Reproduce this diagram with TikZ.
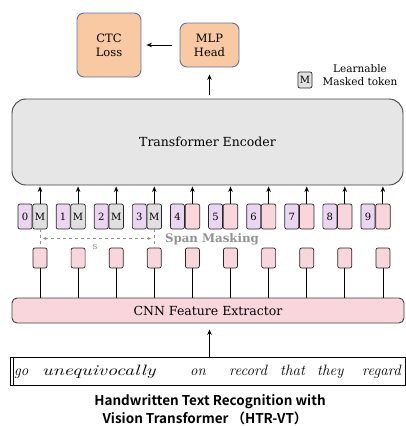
\documentclass[tikz,border=0pt]{standalone}
\usepackage{fontspec}
\newfontfamily\dser{DejaVu Serif}
\newfontfamily\capfont{Noto Sans CJK SC}[BoldFont={Noto Sans CJK SC Bold}]
\usetikzlibrary{arrows.meta,calc}
\definecolor{ofill}{RGB}{248,201,163}
\definecolor{oborder}{RGB}{95,115,165}
\definecolor{encfill}{RGB}{230,230,230}
\definecolor{lav}{RGB}{234,214,240}
\definecolor{pinkf}{RGB}{248,214,220}
\definecolor{mgray}{RGB}{224,224,224}
\definecolor{spang}{RGB}{145,145,145}
\tikzset{
  obox/.style={draw=oborder, line width=0.9pt, fill=ofill, rounded corners=7pt, align=center, inner sep=0pt,
    font=\dser\fontsize{11.5}{14}\selectfont},
  arr/.style={-{Stealth[length=5.5pt,width=4.5pt]}, line width=0.9pt},
  tok/.style={draw=black!85, line width=0.7pt, rounded corners=2pt, minimum width=14.5pt, minimum height=25pt, inner sep=0pt,
    font=\dser\fontsize{10}{12}\selectfont},
  ltok/.style={draw=black!85, line width=0.7pt, rounded corners=2pt, fill=pinkf, minimum width=14pt, minimum height=20pt, inner sep=0pt},
  bigbox/.style={draw=black!75, line width=0.9pt, inner sep=0pt, font=\dser\fontsize{12.5}{14}\selectfont},
  hand/.style={font=\itshape\fontsize{15}{16}\selectfont, inner sep=0pt, anchor=base west},
  captext/.style={inner sep=0pt, font=\capfont\bfseries\fontsize{13.5}{15}\selectfont},
}
\begin{document}
\begin{tikzpicture}[x=1pt,y=-1pt]
\useasboundingbox (0,0) rectangle (405,426);
% top boxes
\node[obox, minimum width=64pt, minimum height=64pt] (ctc) at (109,45) {CTC\\Loss};
\node[obox, minimum width=59pt, minimum height=44pt] (mlp) at (209.5,45) {MLP\\Head};
\draw[arr, shorten <=8pt, shorten >=5pt] (mlp.west) -- (ctc.east);
% legend
\node[draw=black!85, line width=0.7pt, fill=mgray, rounded corners=2pt, minimum width=14pt, minimum height=16pt, inner sep=0pt,
  font=\dser\fontsize{10}{12}\selectfont] (legm) at (305,80) {M};
\node[align=center, inner sep=0pt, font=\dser\fontsize{10.5}{13.5}\selectfont] (legt) at (360,75) {Learnable\\Masked token};
% encoder
\node[bigbox, fill=encfill, rounded corners=14pt, minimum width=391pt, minimum height=86pt] (enc) at (207.5,142) {Transformer Encoder};
\draw[arr, shorten <=4pt, shorten >=7pt] (enc.north -| mlp.south) -- (mlp.south);
% CNN
\node[bigbox, fill=pinkf, rounded corners=5pt, minimum width=392pt, minimum height=25pt] (cnn) at (208,310.5) {CNN Feature Extractor};
% tokens
\foreach \i in {0,...,9}{
  \pgfmathsetmacro{\cx}{40+38.1*\i}
  \ifnum\i<4
    \node[tok, fill=mgray] (t\i) at (\cx,216.5) {M};
  \else
    \node[tok, fill=pinkf] (t\i) at (\cx,216.5) {};
  \fi
  \node[tok, fill=lav, minimum width=14pt, anchor=east] (n\i) at (t\i.west) {\i};
  \draw[arr, shorten >=1pt] (t\i.north) -- (t\i.north |- enc.south);
  \node[ltok] (l\i) at (\cx,258) {};
  \draw[line width=0.8pt] (l\i.south) -- (l\i.south |- cnn.north);
}
% span masking
\draw[spang, dashed, line width=0.6pt] (t0.south) -- (l0.north);
\draw[spang, dashed, line width=0.6pt] (t3.south) -- (l3.north);
\coordinate (sa) at ($(t0.south)!0.5!(l0.north)+(3,0)$);
\coordinate (sb) at ($(t3.south)!0.5!(l3.north)+(-3,0)$);
\draw[spang, dashed, line width=0.6pt, {Stealth[length=3.5pt,width=3pt]}-{Stealth[length=3.5pt,width=3pt]}] (sa) -- (sb);
\node[spang, inner sep=0pt, font=\dser\bfseries\fontsize{11.8}{13}\selectfont] (span) at (212,239) {Span Masking};
\node[spang, inner sep=0pt, font=\dser\fontsize{9.5}{10}\selectfont] (slab) at (95,247) {s};
% handwriting image
\node[draw=black, line width=1.1pt, minimum width=395pt, minimum height=28pt, inner sep=0pt, anchor=north west] (img) at (10,357) {};
\draw[line width=0.5pt] ([xshift=3pt]img.north west) -- ([xshift=3pt]img.south west);
\begin{scope}
\clip (img.north west) rectangle (img.south east);
\node[hand] (w1) at (14,375) {go};
\node[hand] (w2) at (42,375) {\scalebox{1.35}[1]{unequivocally}};
\node[hand] (w3) at (190,375) {on};
\node[hand] (w4) at (229,375) {record};
\node[hand] (w5) at (280,375) {that};
\node[hand] (w6) at (317,375) {they};
\node[hand] (w7) at (362,375) {regard};
\end{scope}
\coordinate (ia) at (img.north -| mlp.south);
\draw[arr, shorten >=6pt] (ia) -- (ia |- cnn.south);
% caption
\node[captext] (cap1) at (210,402) {Handwritten Text Recognition with};
\node[captext] (cap2) at (205,418) {Vision Transformer\ （HTR-VT）};
\end{tikzpicture}
\end{document}
